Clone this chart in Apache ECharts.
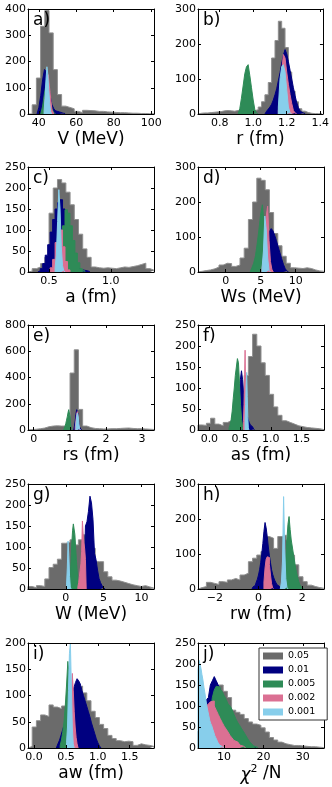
<!DOCTYPE html>
<html>
<head>
<meta charset="utf-8">
<script src="https://cdn.jsdelivr.net/npm/echarts@6/dist/echarts.min.js"></script>
<style>
html, body { margin: 0; padding: 0; background: #fff; }
#main { width: 332px; height: 787px; }
</style>
</head>
<body>
<div id="main"></div>
<script>
// histograms: x0 = first bin edge, dx = bin width, n = counts per bin
// a) V
var V_05  = { x0: 34.2, dx: 2.243, n: [0,35,137,334,394,309,169,74,30,25,20,10,5,14,13,12,10,10,8,7,6,5,5,4,3,3,2,2,1,1] };
var V_01  = { x0: 39, dx: 1, n: [5,25,70,130,170,160,120,70,35,20,12,8,5,3,2] };
var V_005 = { x0: 41, dx: 1, n: [5,30,80,120,110,60,20,5] };
var V_002 = { x0: 43, dx: 1, n: [30,110,150,80,15] };
var V_001 = { x0: 42.8, dx: 0.5, n: [10,60,130,180,150,90,40,10] };
// b) r
var r_05  = { x0: 0.67, dx: 0.02, n: [2,3,3,4,5,6,7,9,10,9,8,10,12,13,12,10,10,12,20,35,55,90,160,210,265,245,190,120,65,35,15,8,4,2,1,1,1] };
var r_01  = { x0: 1.07, dx: 0.01, n: [3,8,14,20,28,40,55,72,95,118,145,168,184,172,150,125,100,75,52,32,18,8,3,1] };
var r_005 = { x0: 0.91, dx: 0.01, n: [4,15,45,80,115,135,141,110,75,40,12,3] };
var r_002 = { x0: 1.15, dx: 0.01, n: [10,50,120,170,160,120,85,55,30,10,3] };
var r_001 = { x0: 1.15, dx: 0.01, n: [20,100,135,141,120,70,20,3] };
// c) a
var a_05  = { x0: 0.331, dx: 0.034, n: [2,8,12,20,35,140,200,220,212,190,160,125,90,55,35,12,10,9,10,9,8,10,12,11,13,15,18,21,8,4] };
var a_01  = { x0: 0.41, dx: 0.02, n: [3,8,20,40,65,95,125,150,165,172,150,115,80,50,30,15,8,5,4,3,1] };
var a_005 = { x0: 0.59, dx: 0.02, n: [20,110,148,140,110,75,45,22,8,3] };
var a_002 = { x0: 0.51, dx: 0.02, n: [10,30,70,113,100,60,25,5] };
var a_001 = { x0: 0.55, dx: 0.01, n: [10,40,120,196,150,60,15,3] };
// d) Ws
var Ws_05  = { x0: -3.95, dx: 0.6, n: [2,4,6,9,14,20,25,24,16,20,40,68,150,200,268,262,235,170,110,75,45,25,12,11,10,12,10,6,3,2] };
var Ws_01  = { x0: 5.0, dx: 0.25, n: [5,15,35,60,90,115,124,118,105,90,72,55,38,22,10,3] };
var Ws_005 = { x0: 3.5, dx: 0.25, n: [5,12,25,45,80,120,165,192,140,70,20,3] };
var Ws_002 = { x0: 5.2, dx: 0.2, n: [10,40,100,160,188,90,30,8] };
var Ws_001 = { x0: 5.2, dx: 0.2, n: [10,60,160,120,40,5] };
// e) rs
var rs_05  = { x0: -0.156, dx: 0.1163, n: [3,6,10,15,25,30,32,30,30,28,434,611,157,30,18,12,10,8,8,10,10,12,14,15,12,10,10,8,6,4] };
var rs_01  = { x0: 1.11, dx: 0.02, n: [10,30,70,120,155,169,120,60,25,10,3] };
var rs_005 = { x0: 0.83, dx: 0.02, n: [5,15,30,50,75,100,130,155,169,100,30,5] };
var rs_002 = { x0: 1.15, dx: 0.02, n: [20,70,120,140,100,40,10] };
var rs_001 = { x0: 1.17, dx: 0.02, n: [40,100,130,110,50,10] };
// f) as
var as_05  = { x0: -0.185, dx: 0.0683, n: [12,11,16,28,14,10,18,22,30,50,90,130,175,228,200,160,130,85,55,35,22,18,14,10,8,6,5,4,3,1] };
var as_01  = { x0: 0.45, dx: 0.018, n: [10,30,70,120,141,120,85,60,45,35,25,18,12,8,4,2] };
var as_005 = { x0: 0.32, dx: 0.017, n: [5,12,25,45,75,100,130,150,170,160,110,60,25,8,2] };
var as_002 = { x0: 0.554, dx: 0.009, n: [20,60,120,190,60,10] };
var as_001 = { x0: 0.58, dx: 0.009, n: [20,60,110,137,80,30,5] };
// g) W
var W_05  = { x0: -5.0, dx: 0.5556, n: [6,3,8,6,24,51,59,71,109,111,117,105,117,129,125,97,65,65,41,29,21,19,16,13,10,8,6,8,5,2] };
var W_01  = { x0: 2.4, dx: 0.2, n: [5,150,160,185,221,205,165,85,70,45,25,15,8,3] };
var W_005 = { x0: 0.4, dx: 0.1, n: [5,15,35,70,110,140,155,159,130,100,70,45,25,12,5] };
var W_002 = { x0: 1.6, dx: 0.1, n: [5,15,30,45,60,90,162,130,110,95,70] };
var W_001 = { x0: 0.1, dx: 0.1, n: [10,50,114,80,30,5] };
// h) rw
var rw_05  = { x0: -2.77, dx: 0.1923, n: [4,7,19,16,13,21,19,26,30,26,40,45,78,88,97,107,150,145,116,150,154,140,97,69,35,21,11,7,4,2] };
var rw_01  = { x0: -0.3, dx: 0.05, n: [3,6,10,15,20,28,40,55,75,100,130,165,190,175,150,120,95,75,55,42,32,24,18,12,8,4,2] };
var rw_005 = { x0: 1.1, dx: 0.05, n: [5,20,50,90,140,185,207,170,140,120,100,80,60,45,32,20,12,6,3] };
var rw_002 = { x0: 0.25, dx: 0.05, n: [20,60,85,92,90,70,40,15,3] };
var rw_001 = { x0: 1.0, dx: 0.05, n: [5,20,80,264,120,30,5] };
// i) aw
var aw_05  = { x0: -0.094, dx: 0.0658, n: [3,40,52,63,60,82,78,75,80,85,100,115,118,105,90,70,58,45,37,24,18,14,12,13,12,5,8,6,5,3] };
var aw_01  = { x0: 0.35, dx: 0.025, n: [3,8,15,25,35,45,55,65,75,85,100,115,125,132,128,122,110,100,90,80,70,60,48,38,28,18,10,4] };
var aw_005 = { x0: 0.41, dx: 0.02, n: [5,15,30,50,80,120,165,140,90,50,30,18,10,4] };
var aw_002 = { x0: 0.555, dx: 0.015, n: [20,60,110,142,110,70,40,20,8] };
var aw_001 = { x0: 0.51, dx: 0.015, n: [10,40,110,180,200,120,40,8] };
// j) chi2/N
var chi_05  = { x0: 3.36, dx: 1.067, n: [40,80,110,130,145,150,135,120,90,85,80,70,62,57,54,48,38,25,19,14,10,8,6,6,5,4,3,3,2,1] };
var chi_01  = { x0: 3.5, dx: 0.5, n: [30,60,85,100,115,120,150,160,170,160,150,140,130,115,100,85,70,55,45,35,28,22,17,13,10,7,5,3,2] };
var chi_005 = { x0: 5.5, dx: 0.5, n: [10,40,80,120,138,147,145,140,135,125,116,105,100,92,80,69,60,53,45,38,30,22,15,10,5,2] };
var chi_002 = { x0: 4.5, dx: 0.5, n: [30,70,100,105,110,112,100,90,80,70,61,52,45,38,30,24,18,14,10,7,4,2] };
var chi_001 = { x0: 3.36, dx: 0.25, n: [186,209,200,190,175,162,145,131,115,100,88,77,65,58,53,45,38,30,25,20,14,10,7,5,3,2] };

var levels = ['0.05', '0.01', '0.005', '0.002', '0.001'];
var fills  = ['#6b6b6b', '#000080', '#2e8b57', '#db7093', '#87ceeb'];
var edges  = ['#8f8f8f', '#000080', '#2e8b57', '#db7093', '#87ceeb'];

var panels = [
  { tag: 'a)', name: 'V (MeV)', xmin: 34.2, xmax: 101.5, xticks: [40, 60, 80, 100], dec: 0, ymax: 400, yticks: [0, 100, 200, 300, 400], h: [V_05, V_01, V_005, V_002, V_001] },
  { tag: 'b)', name: 'r (fm)', xmin: 0.671, xmax: 1.416, xticks: [0.8, 1.0, 1.2, 1.4], dec: 1, ymax: 300, yticks: [0, 100, 200, 300], h: [r_05, r_01, r_005, r_002, r_001] },
  { tag: 'c)', name: 'a (fm)', xmin: 0.331, xmax: 1.349, xticks: [0.5, 1.0], dec: 1, ymax: 250, yticks: [0, 50, 100, 150, 200, 250], h: [a_05, a_01, a_005, a_002, a_001] },
  { tag: 'd)', name: 'Ws (MeV)', xmin: -3.95, xmax: 14.05, xticks: [0, 5, 10], dec: 0, ymax: 300, yticks: [0, 100, 200, 300], h: [Ws_05, Ws_01, Ws_005, Ws_002, Ws_001] },
  { tag: 'e)', name: 'rs (fm)', xmin: -0.156, xmax: 3.33, xticks: [0, 1, 2, 3], dec: 0, ymax: 800, yticks: [0, 200, 400, 600, 800], h: [rs_05, rs_01, rs_005, rs_002, rs_001] },
  { tag: 'f)', name: 'as (fm)', xmin: -0.185, xmax: 1.864, xticks: [0.0, 0.5, 1.0, 1.5], dec: 1, ymax: 250, yticks: [0, 50, 100, 150, 200, 250], h: [as_05, as_01, as_005, as_002, as_001] },
  { tag: 'g)', name: 'W (MeV)', xmin: -5.0, xmax: 11.67, xticks: [0, 5, 10], dec: 0, ymax: 250, yticks: [0, 50, 100, 150, 200, 250], h: [W_05, W_01, W_005, W_002, W_001] },
  { tag: 'h)', name: 'rw (fm)', xmin: -2.77, xmax: 3.0, xticks: [-2, 0, 2], dec: 0, ymax: 300, yticks: [0, 100, 200, 300], h: [rw_05, rw_01, rw_005, rw_002, rw_001] },
  { tag: 'i)', name: 'aw (fm)', xmin: -0.094, xmax: 1.88, xticks: [0.0, 0.5, 1.0, 1.5], dec: 1, ymax: 200, yticks: [0, 50, 100, 150, 200], h: [aw_05, aw_01, aw_005, aw_002, aw_001] },
  { tag: 'j)', name: '{m|χ}{s|2} /N', xmin: 3.36, xmax: 35.4, xticks: [10, 20, 30], dec: 0, ymax: 250, yticks: [0, 50, 100, 150, 200, 250], h: [chi_05, chi_01, chi_005, chi_002, chi_001] }
];

var FONT = 'DejaVu Sans';
var rowTop = [9, 167, 325, 484, 643];
var colLeft = [28, 198];
var plotW = 126, plotH = 105;

function steps(hh) {
  var pts = [[hh.x0, 0]];
  for (var i = 0; i < hh.n.length; i++) pts.push([hh.x0 + i * hh.dx, hh.n[i]]);
  pts.push([hh.x0 + hh.n.length * hh.dx, 0]);
  return pts;
}
function fmt(dec) {
  return function (v) { return v.toFixed(dec).replace('-', '\u2212'); };
}

var grids = [], xAxes = [], yAxes = [], series = [], titles = [];
panels.forEach(function (p, i) {
  var left = colLeft[i % 2], top = rowTop[Math.floor(i / 2)];
  grids.push({ left: left, top: top, width: plotW, height: plotH, show: false });
  titles.push({ text: p.tag, left: left + 5, top: top + 3, padding: 0, z: 20,
    textStyle: { fontSize: 17, fontWeight: 'normal', fontFamily: FONT, color: '#000' } });
  var tick = { show: true, inside: true, length: 3, lineStyle: { color: '#000', width: 1 } };
  var line = { show: true, onZero: false, lineStyle: { color: '#000', width: 1 } };
  xAxes.push({
    gridIndex: i, type: 'value', min: p.xmin, max: p.xmax, position: 'bottom', z: 10,
    axisLine: line, splitLine: { show: false },
    axisTick: Object.assign({ customValues: p.xticks }, tick),
    axisLabel: { customValues: p.xticks, formatter: fmt(p.dec), fontSize: 11, fontFamily: FONT, color: '#000', margin: 4 },
    name: p.name, nameLocation: 'middle', nameGap: 13,
    nameTextStyle: { fontSize: 17, fontFamily: FONT, color: '#000', verticalAlign: 'top', lineHeight: 20,
      rich: {
        m: { fontSize: 17, fontStyle: 'italic', fontFamily: FONT, color: '#000', lineHeight: 20, verticalAlign: 'bottom' },
        s: { fontSize: 11, fontFamily: FONT, color: '#000', lineHeight: 20, verticalAlign: 'top' }
      } }
  });
  xAxes.push({
    gridIndex: i, type: 'value', min: p.xmin, max: p.xmax, position: 'top', z: 10,
    axisLine: line, splitLine: { show: false }, axisLabel: { show: false },
    axisTick: Object.assign({ customValues: p.xticks }, tick)
  });
  yAxes.push({
    gridIndex: i, type: 'value', min: 0, max: p.ymax, position: 'left', z: 10,
    axisLine: line, splitLine: { show: false },
    axisTick: Object.assign({ customValues: p.yticks }, tick),
    axisLabel: { customValues: p.yticks, fontSize: 11, fontFamily: FONT, color: '#000', margin: 2 }
  });
  yAxes.push({
    gridIndex: i, type: 'value', min: 0, max: p.ymax, position: 'right', z: 10,
    axisLine: line, splitLine: { show: false }, axisLabel: { show: false },
    axisTick: Object.assign({ customValues: p.yticks }, tick)
  });
  p.h.forEach(function (hh, k) {
    series.push({
      type: 'line', name: levels[k], xAxisIndex: 2 * i, yAxisIndex: 2 * i,
      z: 2 + k,
      data: steps(hh), step: 'end', symbol: 'none', showSymbol: false, silent: true,
      lineStyle: { color: edges[k], width: 1 },
      itemStyle: { color: fills[k] },
      areaStyle: { color: fills[k], opacity: 1 }
    });
  });
});

var chart = echarts.init(document.getElementById('main'), null, { renderer: 'canvas' });
chart.setOption({
  animation: false,
  backgroundColor: '#fff',
  title: titles,
  grid: grids,
  xAxis: xAxes,
  yAxis: yAxes,
  legend: {
    orient: 'vertical', left: 259, top: 648, z: 30,
    data: levels, icon: 'rect', itemWidth: 20, itemHeight: 7, itemGap: 4,
    padding: [3, 12, 3, 4], backgroundColor: '#fff', borderColor: '#333', borderWidth: 1,
    selectedMode: false,
    itemStyle: { borderWidth: 0 },
    textStyle: { fontSize: 9.5, fontFamily: FONT, color: '#000', lineHeight: 10 }
  },
  series: series
});
</script>
</body>
</html>
